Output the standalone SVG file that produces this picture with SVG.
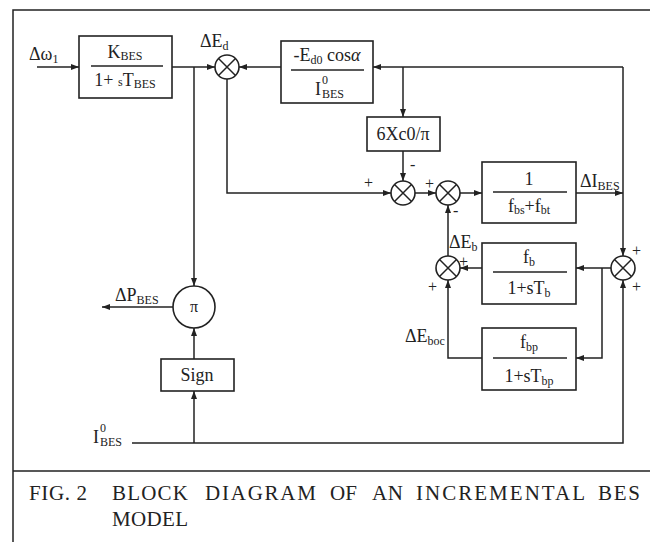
<svg xmlns="http://www.w3.org/2000/svg" width="650" height="542" viewBox="0 0 650 542">
<defs>
<marker id="ah" markerWidth="9" markerHeight="7" refX="8" refY="3" orient="auto" markerUnits="userSpaceOnUse">
<path d="M0,0 L8,3 L0,6 z" fill="#222"/>
</marker>
<style>
.ln{fill:none;stroke:#222;stroke-width:1.5}
.ar{fill:none;stroke:#222;stroke-width:1.5;marker-end:url(#ah)}
.bx{fill:#fff;stroke:#222;stroke-width:1.6}
.t{font-family:"Liberation Serif","Times New Roman",serif;font-size:18px;fill:#222}
.s{font-size:12px}
.sg{font-family:"Liberation Serif","Times New Roman",serif;font-size:16px;fill:#222}
.cap{font-family:"Liberation Serif","Times New Roman",serif;font-size:21px;fill:#222}
</style>
</defs>
<rect width="650" height="542" fill="#fff"/>
<path class="ln" d="M13,542 V10 H650 M13,471 H650"/>

<g id="connectors">
<path class="ar" d="M37,67 H79"/>
<path class="ar" d="M172,67 H215"/>
<path class="ar" d="M194,67 V286"/>
<path class="ar" d="M281,67 H239"/>
<path class="ar" d="M623,67 H373"/>
<path class="ar" d="M623,67 V256"/>
<path class="ar" d="M403,67 V117"/>
<path class="ar" d="M227,79 V193 H391"/>
<path class="ar" d="M403,151 V181"/>
<path class="ar" d="M415,193 H436"/>
<path class="ar" d="M460,193 H482"/>
<path class="ar" d="M576,193 H623"/>
<path class="ar" d="M611,268 H576"/>
<path class="ar" d="M602,268 V358 H576"/>
<path class="ar" d="M482,268 H460"/>
<path class="ar" d="M482,358 H448 V280"/>
<path class="ar" d="M448,256 V205"/>
<path class="ar" d="M173,307 H102"/>
<path class="ar" d="M194,359 V328"/>
<path class="ar" d="M132,443 H623 V280"/>
<path class="ar" d="M194,443 V391"/>
</g>

<g id="input">
<text class="t" x="29" y="60">Δω<tspan class="s" dy="3">1</tspan></text>
</g>

<g id="block-kbes">
<rect class="bx" x="79" y="36" width="93" height="62"/>
<line class="ln" x1="91" y1="66" x2="163" y2="66"/>
<text class="t" x="125" y="58" text-anchor="middle">K<tspan class="s" dy="2">BES</tspan></text>
<text class="t" x="125" y="86" text-anchor="middle">1+ <tspan class="s">s</tspan>T<tspan class="s" dy="2">BES</tspan></text>
</g>

<g id="sum-ed">
<circle class="bx" cx="227" cy="67" r="12"/>
<path class="ln" d="M218.5,58.5 L235.5,75.5 M235.5,58.5 L218.5,75.5"/>
<text class="t" x="200" y="47">ΔE<tspan class="s" dy="3">d</tspan></text>
</g>

<g id="block-ed0">
<rect class="bx" x="281" y="41" width="92" height="62"/>
<line class="ln" x1="291" y1="70" x2="364" y2="70"/>
<text class="t" x="327" y="61" text-anchor="middle">-E<tspan class="s" dy="3">d0</tspan><tspan dy="-3"> cos</tspan><tspan font-style="italic">α</tspan></text>
<text class="t" x="315" y="95">I</text>
<text class="t s" x="322" y="84">0</text>
<text class="t s" x="322" y="98">BES</text>
</g>

<g id="block-6xc">
<rect class="bx" x="367" y="117" width="73" height="34"/>
<text class="t" x="403" y="140" text-anchor="middle">6Xc0/π</text>
</g>

<g id="sum-2">
<circle class="bx" cx="403" cy="193" r="12"/>
<path class="ln" d="M394.5,184.5 L411.5,201.5 M411.5,184.5 L394.5,201.5"/>
<text class="sg" x="364" y="188">+</text>
<text class="sg" x="410" y="170">-</text>
</g>

<g id="sum-3">
<circle class="bx" cx="448" cy="193" r="12"/>
<path class="ln" d="M439.5,184.5 L456.5,201.5 M456.5,184.5 L439.5,201.5"/>
<text class="sg" x="425" y="189">+</text>
<text class="sg" x="453" y="216">-</text>
</g>

<g id="block-fbs">
<rect class="bx" x="482" y="162" width="94" height="61"/>
<line class="ln" x1="493" y1="192" x2="567" y2="192"/>
<text class="t" x="529" y="185" text-anchor="middle">1</text>
<text class="t" x="529" y="212" text-anchor="middle">f<tspan class="s" dy="2">bs</tspan><tspan dy="-2">+f</tspan><tspan class="s" dy="2">bt</tspan></text>
<text class="t" x="580" y="187">ΔI<tspan class="s" dy="3">BES</tspan></text>
</g>

<g id="sum-4">
<circle class="bx" cx="623" cy="268" r="12"/>
<path class="ln" d="M614.5,259.5 L631.5,276.5 M631.5,259.5 L614.5,276.5"/>
<text class="sg" x="632" y="256">+</text>
<text class="sg" x="632" y="292">+</text>
</g>

<g id="block-fb">
<rect class="bx" x="482" y="243" width="94" height="61"/>
<line class="ln" x1="493" y1="272" x2="567" y2="272"/>
<text class="t" x="529" y="263" text-anchor="middle">f<tspan class="s" dy="3">b</tspan></text>
<text class="t" x="529" y="294" text-anchor="middle">1+sT<tspan class="s" dy="3">b</tspan></text>
</g>

<g id="sum-5">
<circle class="bx" cx="448" cy="268" r="12"/>
<path class="ln" d="M439.5,259.5 L456.5,276.5 M456.5,259.5 L439.5,276.5"/>
<text class="t" x="449" y="248">ΔE<tspan class="s" dy="3">b</tspan></text>
<text class="sg" x="459" y="267">+</text>
<text class="sg" x="428" y="292">+</text>
<text class="t" x="405" y="342">ΔE<tspan class="s" dy="3">boc</tspan></text>
</g>

<g id="block-fbp">
<rect class="bx" x="482" y="328" width="94" height="62"/>
<line class="ln" x1="493" y1="358" x2="567" y2="358"/>
<text class="t" x="529" y="348" text-anchor="middle">f<tspan class="s" dy="3">bp</tspan></text>
<text class="t" x="529" y="382" text-anchor="middle">1+sT<tspan class="s" dy="3">bp</tspan></text>
</g>

<g id="mult-pi">
<circle class="bx" cx="194" cy="307" r="21"/>
<text class="sg" x="194" y="312" text-anchor="middle">π</text>
<text class="t" x="115" y="301">ΔP<tspan class="s" dy="3">BES</tspan></text>
</g>

<g id="block-sign">
<rect class="bx" x="161" y="359" width="73" height="32"/>
<text class="t" x="197" y="381" text-anchor="middle">Sign</text>
</g>

<g id="input-ibes">
<text class="t" x="93" y="443">I</text>
<text class="t s" x="100" y="432">0</text>
<text class="t s" x="100" y="446">BES</text>
</g>

<g id="caption">
<text class="cap" x="29" y="500" textLength="58" lengthAdjust="spacing">FIG. 2</text>
<text class="cap" x="112" y="500" textLength="76" lengthAdjust="spacing">BLOCK</text>
<text class="cap" x="205" y="500" textLength="111" lengthAdjust="spacing">DIAGRAM</text>
<text class="cap" x="330" y="500" textLength="27" lengthAdjust="spacing">OF</text>
<text class="cap" x="372" y="500" textLength="31" lengthAdjust="spacing">AN</text>
<text class="cap" x="416" y="500" textLength="169" lengthAdjust="spacing">INCREMENTAL</text>
<text class="cap" x="598" y="500" textLength="42" lengthAdjust="spacing">BES</text>
<text class="cap" x="112" y="526" textLength="76" lengthAdjust="spacing">MODEL</text>
</g>
</svg>
